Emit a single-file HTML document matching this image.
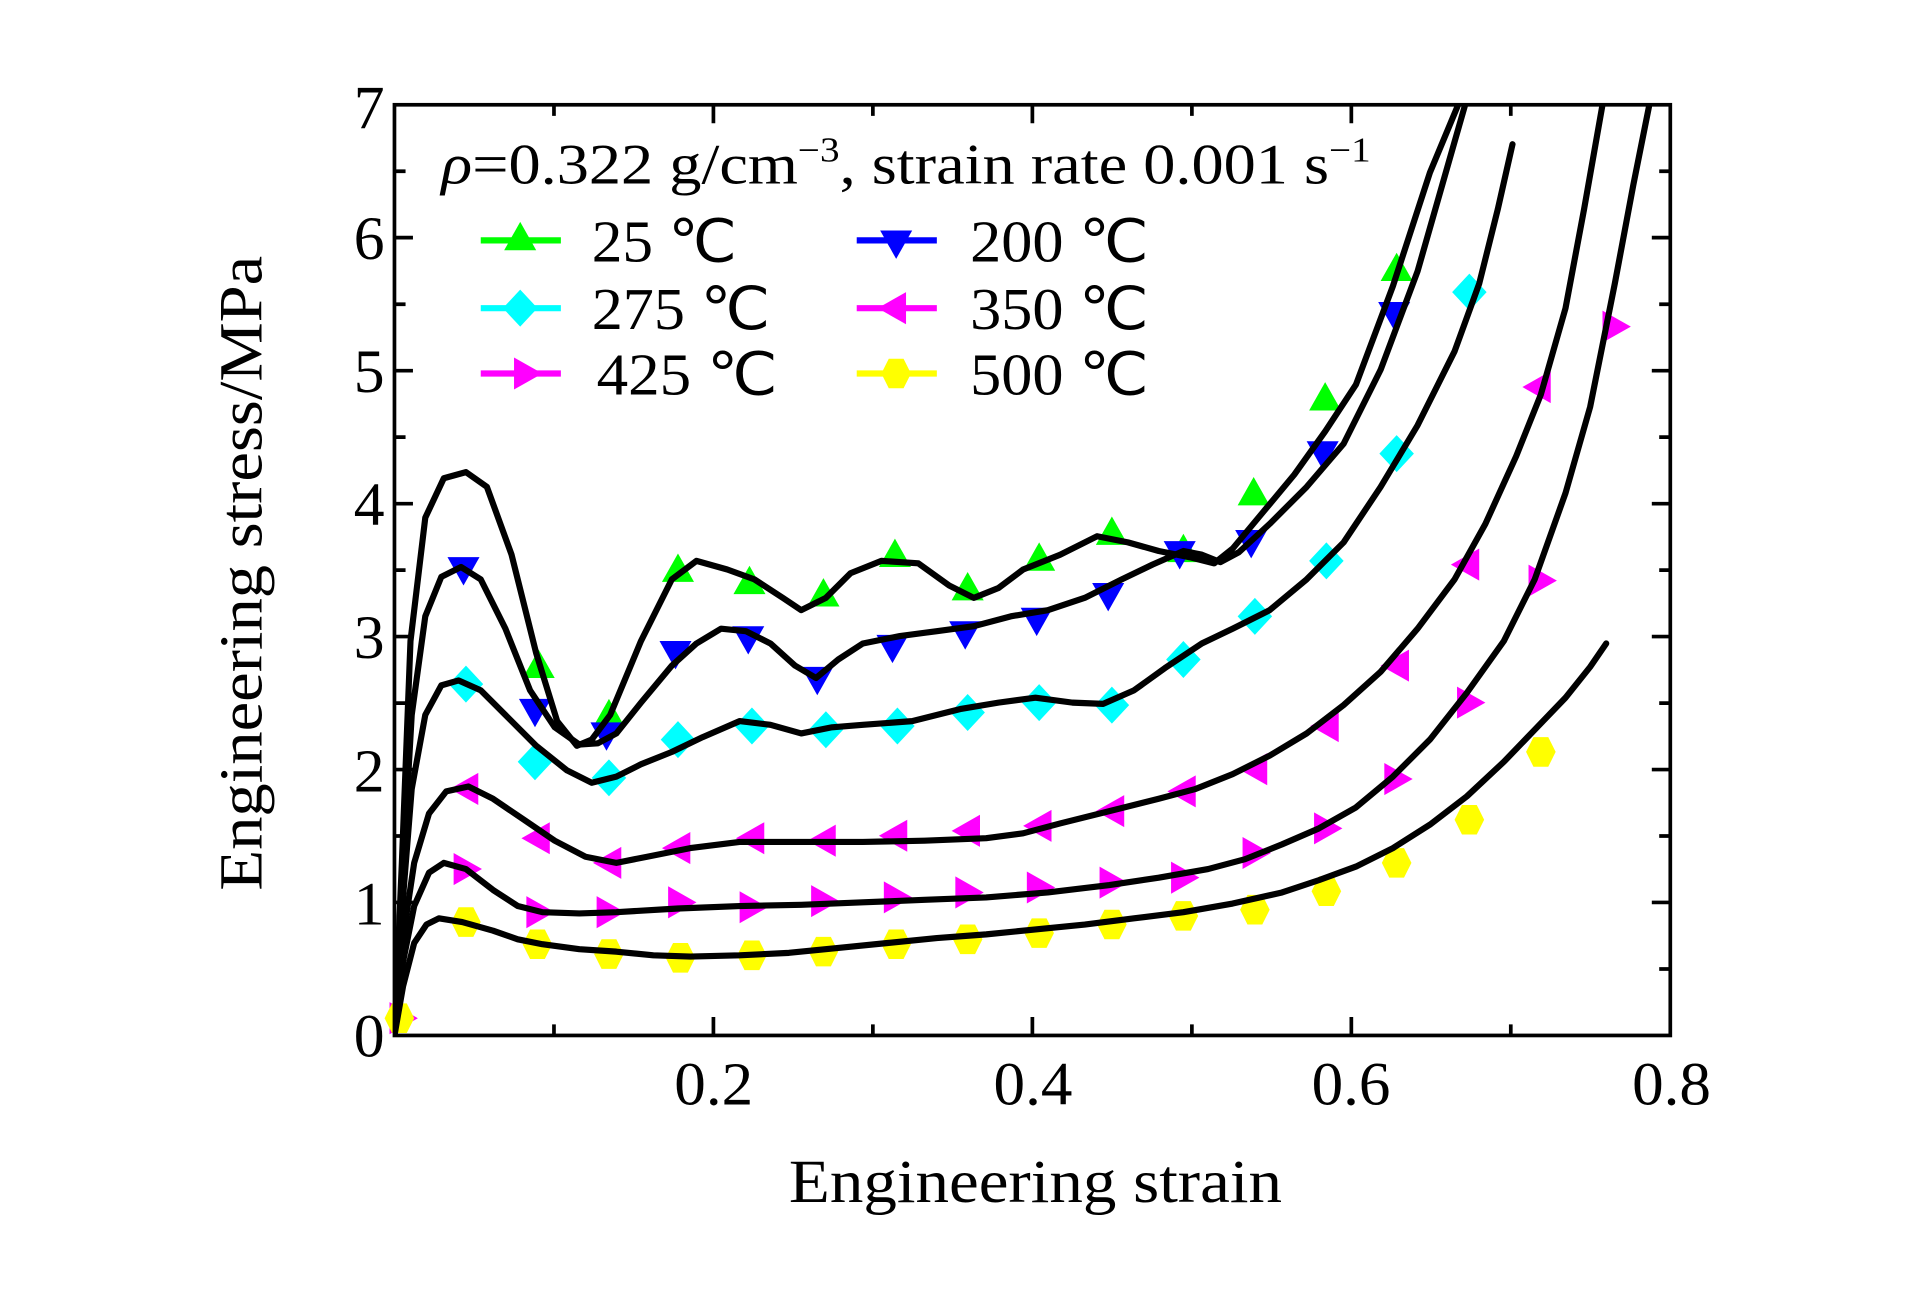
<!DOCTYPE html>
<html><head><meta charset="utf-8"><style>html,body{margin:0;padding:0;background:#fff;}svg{display:block}</style></head>
<body>
<svg width="1923" height="1299" viewBox="0 0 1560 1053.8" preserveAspectRatio="none" xmlns="http://www.w3.org/2000/svg" font-family="Liberation Serif, serif">
<defs>
<polygon id="tu" points="0,-13 13,10 -13,10"/>
<polygon id="td" points="0,13 13,-10 -13,-10"/>
<polygon id="dm" points="0,-15 14,0 0,15 -14,0"/>
<polygon id="tl" points="-13,0 10,-13 10,13"/>
<polygon id="tr" points="13,0 -10,-13 -10,13"/>
<polygon id="hx" points="-6,-12 6,-12 12,0 6,12 -6,12 -12,0"/>
</defs>
<rect width="1560" height="1054" fill="#fff"/>
<g fill="#00ff00">
<use href="#tu" x="437" y="540"/><use href="#tu" x="494" y="580"/><use href="#tu" x="550" y="462"/><use href="#tu" x="608" y="472"/><use href="#tu" x="668" y="482"/><use href="#tu" x="726" y="450"/><use href="#tu" x="785" y="477"/><use href="#tu" x="843" y="453"/><use href="#tu" x="902" y="432"/><use href="#tu" x="960" y="446"/><use href="#tu" x="1017" y="400"/><use href="#tu" x="1075" y="323"/><use href="#tu" x="1133" y="218"/>
</g>
<g fill="#0000ff">
<use href="#td" x="376" y="462"/><use href="#td" x="434" y="577"/><use href="#td" x="492" y="596"/><use href="#td" x="548" y="530"/><use href="#td" x="607" y="518"/><use href="#td" x="663" y="551"/><use href="#td" x="724" y="525"/><use href="#td" x="783" y="514"/><use href="#td" x="841" y="503"/><use href="#td" x="899" y="483"/><use href="#td" x="957" y="449"/><use href="#td" x="1015" y="440"/><use href="#td" x="1073" y="368"/><use href="#td" x="1131" y="255"/>
</g>
<g fill="#00ffff">
<use href="#dm" x="378" y="555"/><use href="#dm" x="434" y="618"/><use href="#dm" x="494" y="631"/><use href="#dm" x="550" y="600"/><use href="#dm" x="610" y="589"/><use href="#dm" x="670" y="592"/><use href="#dm" x="728" y="589"/><use href="#dm" x="785" y="578"/><use href="#dm" x="843" y="570"/><use href="#dm" x="902" y="572"/><use href="#dm" x="960" y="535"/><use href="#dm" x="1018" y="500"/><use href="#dm" x="1076" y="455"/><use href="#dm" x="1133" y="368"/><use href="#dm" x="1192" y="237"/>
</g>
<g fill="#ff00ff">
<use href="#tl" x="378" y="640"/><use href="#tl" x="436" y="680"/><use href="#tl" x="494" y="700"/><use href="#tl" x="550" y="688"/><use href="#tl" x="610" y="680"/><use href="#tl" x="668" y="682"/><use href="#tl" x="726" y="678"/><use href="#tl" x="785" y="674"/><use href="#tl" x="843" y="670"/><use href="#tl" x="902" y="658"/><use href="#tl" x="960" y="642"/><use href="#tl" x="1018" y="624"/><use href="#tl" x="1076" y="589"/><use href="#tl" x="1133" y="540"/><use href="#tl" x="1190" y="458"/><use href="#tl" x="1248" y="314"/>
<use href="#tr" x="378" y="705"/><use href="#tr" x="437" y="740"/><use href="#tr" x="494" y="740"/><use href="#tr" x="552" y="732"/><use href="#tr" x="610" y="736"/><use href="#tr" x="668" y="731"/><use href="#tr" x="727" y="728"/><use href="#tr" x="785" y="724"/><use href="#tr" x="843" y="720"/><use href="#tr" x="902" y="716"/><use href="#tr" x="960" y="712"/><use href="#tr" x="1018" y="692"/><use href="#tr" x="1076" y="672"/><use href="#tr" x="1133" y="632"/><use href="#tr" x="1192" y="570"/><use href="#tr" x="1250" y="471"/><use href="#tr" x="1310" y="265"/>
<use href="#tr" x="326" y="826"/>
</g>
<g fill="#ffff00">
<use href="#hx" x="378" y="748"/><use href="#hx" x="436" y="766"/><use href="#hx" x="494" y="774"/><use href="#hx" x="552" y="777"/><use href="#hx" x="610" y="775"/><use href="#hx" x="668" y="772"/><use href="#hx" x="727" y="766"/><use href="#hx" x="785" y="762"/><use href="#hx" x="843" y="757"/><use href="#hx" x="902" y="750"/><use href="#hx" x="960" y="743"/><use href="#hx" x="1018" y="738"/><use href="#hx" x="1076" y="723"/><use href="#hx" x="1133" y="700"/><use href="#hx" x="1192" y="665"/><use href="#hx" x="1250" y="610"/><use href="#hx" x="324" y="826"/>
</g>
<clipPath id="cp"><rect x="320" y="85" width="1035" height="755"/></clipPath>
<g clip-path="url(#cp)" fill="none" stroke="#000" stroke-width="5" stroke-linejoin="round" stroke-linecap="round">
<polyline points="320,840 326,700 333,520 345,420 360,388 378,383 395,395 415,450 435,530 452,585 468,605 480,600 495,580 520,520 545,470 565,455 590,462 612,470 635,485 650,495 670,485 690,465 715,455 745,457 770,475 790,485 810,477 830,462 860,450 890,435 915,440 940,447 965,452 985,457 1000,445 1025,415 1050,385 1075,350 1100,312 1130,232 1160,140 1185,80"/>
<polyline points="320,840 326,720 334,580 345,500 358,468 374,460 390,470 410,510 430,560 450,590 470,604 485,603 500,595 520,570 545,540 565,522 585,510 605,512 625,522 645,540 662,550 680,535 700,522 730,516 760,512 790,508 820,500 850,495 880,485 910,470 935,458 960,447 975,450 990,456 1005,448 1030,425 1060,395 1090,360 1120,300 1150,220 1170,150 1190,80"/>
<polyline points="320,840 326,740 334,640 345,580 358,556 372,552 390,560 410,580 435,605 460,625 480,635 500,630 520,620 545,610 570,598 600,585 625,588 650,595 675,590 700,588 740,585 780,575 810,570 840,566 870,570 895,571 920,560 945,542 975,522 1000,510 1030,495 1060,470 1090,440 1120,395 1150,345 1180,285 1200,230 1215,170 1227,117"/>
<polyline points="320,840 327,760 336,700 348,660 362,642 380,638 400,648 425,665 450,682 475,695 500,700 525,695 560,688 600,683 650,683 700,683 750,682 800,680 830,676 860,668 900,658 940,648 970,640 1000,628 1030,613 1060,595 1090,572 1120,545 1150,510 1180,470 1205,425 1230,370 1250,320 1270,250 1285,170 1300,85"/>
<polyline points="320,840 327,780 336,735 348,708 360,700 378,705 400,722 420,735 440,740 470,741 500,740 550,737 600,735 650,734 700,732 750,730 800,728 850,724 900,718 940,712 980,705 1010,697 1040,685 1070,672 1100,655 1130,630 1160,600 1190,562 1220,520 1245,470 1270,400 1290,330 1310,230 1325,150 1338,85"/>
<polyline points="320,840 327,800 336,765 346,750 356,745 375,748 400,755 420,762 440,766 470,770 500,772 530,775 560,776 600,775 640,773 680,769 720,765 760,761 800,758 840,754 880,750 920,745 960,740 1000,733 1040,724 1070,714 1100,703 1130,688 1160,669 1190,646 1220,618 1245,592 1270,566 1290,541 1303,522"/>
</g>
<rect x="320" y="85" width="1035" height="755" fill="none" stroke="#000" stroke-width="3"/>
<g stroke="#000" stroke-width="3">
<path d="M578.75,840v-15M837.5,840v-15M1096.25,840v-15M449.4,840v-9M708.1,840v-9M966.9,840v-9M1225.6,840v-9"/>
<path d="M578.75,85v15M837.5,85v15M1096.25,85v15M449.4,85v9M708.1,85v9M966.9,85v9M1225.6,85v9"/>
<path d="M320,732.1h15M320,624.3h15M320,516.4h15M320,408.6h15M320,300.7h15M320,192.8h15M320,786.1h9M320,678.2h9M320,570.4h9M320,462.5h9M320,354.6h9M320,246.8h9M320,138.9h9"/>
<path d="M1355,732.1h-15M1355,624.3h-15M1355,516.4h-15M1355,408.6h-15M1355,300.7h-15M1355,192.8h-15M1355,786.1h-9M1355,678.2h-9M1355,570.4h-9M1355,462.5h-9M1355,354.6h-9M1355,246.8h-9M1355,138.9h-9"/>
</g>
<g font-size="50" fill="#000" text-anchor="end">
<text x="312" y="857">0</text><text x="312" y="750">1</text><text x="312" y="642">2</text><text x="312" y="534">3</text><text x="312" y="426">4</text><text x="312" y="318">5</text><text x="312" y="210">6</text><text x="312" y="104">7</text>
</g>
<g font-size="50" fill="#000" text-anchor="middle">
<text x="579" y="896" textLength="64" lengthAdjust="spacingAndGlyphs">0.2</text><text x="838" y="896" textLength="64" lengthAdjust="spacingAndGlyphs">0.4</text><text x="1096" y="896" textLength="64" lengthAdjust="spacingAndGlyphs">0.6</text><text x="1356" y="896" textLength="64" lengthAdjust="spacingAndGlyphs">0.8</text>
</g>
<text x="840" y="975" font-size="50" text-anchor="middle" textLength="400" lengthAdjust="spacingAndGlyphs">Engineering strain</text>
<text transform="translate(212,465) rotate(-90)" font-size="50" text-anchor="middle" textLength="515" lengthAdjust="spacingAndGlyphs">Engineering stress/MPa</text>
<text x="358" y="149" font-size="46" textLength="754" lengthAdjust="spacingAndGlyphs"><tspan font-style="italic">ρ</tspan>=0.322 g/cm<tspan font-size="28" dy="-18">−3</tspan><tspan dy="18">, strain rate 0.001 s</tspan><tspan font-size="28" dy="-18">−1</tspan></text>
<g stroke-width="5">
<line x1="390" y1="195" x2="455" y2="195" stroke="#00ff00"/><use href="#tu" x="422" y="193" fill="#00ff00"/>
<line x1="390" y1="250" x2="455" y2="250" stroke="#00ffff"/><use href="#dm" x="422" y="250" fill="#00ffff"/>
<line x1="390" y1="303" x2="455" y2="303" stroke="#ff00ff"/><use href="#tr" x="427" y="303" fill="#ff00ff"/>
<line x1="695" y1="195" x2="760" y2="195" stroke="#0000ff"/><use href="#td" x="727" y="197" fill="#0000ff"/>
<line x1="695" y1="250" x2="760" y2="250" stroke="#ff00ff"/><use href="#tl" x="725" y="250" fill="#ff00ff"/>
<line x1="695" y1="303" x2="760" y2="303" stroke="#ffff00"/><use href="#hx" x="727" y="303" fill="#ffff00"/>
</g>
<g font-size="48" fill="#000">
<text x="480" y="212" textLength="118" lengthAdjust="spacingAndGlyphs">25 ℃</text>
<text x="480" y="267" textLength="145" lengthAdjust="spacingAndGlyphs">275 ℃</text>
<text x="484" y="320" textLength="147" lengthAdjust="spacingAndGlyphs">425 ℃</text>
<text x="787" y="212" textLength="145" lengthAdjust="spacingAndGlyphs">200 ℃</text>
<text x="787" y="267" textLength="145" lengthAdjust="spacingAndGlyphs">350 ℃</text>
<text x="787" y="320" textLength="145" lengthAdjust="spacingAndGlyphs">500 ℃</text>
</g>
</svg>
</body></html>
